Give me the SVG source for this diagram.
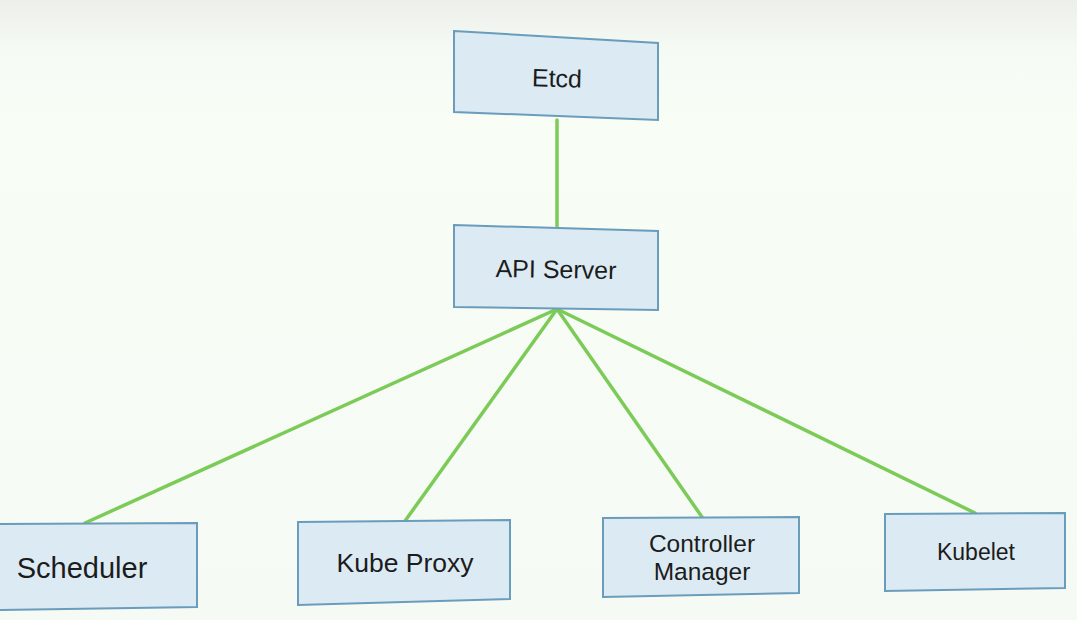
<svg xmlns="http://www.w3.org/2000/svg" width="1077" height="620" viewBox="0 0 1077 620">
  <defs>
    <linearGradient id="bg" x1="0" y1="0" x2="0" y2="1">
      <stop offset="0" stop-color="#ecefea"/>
      <stop offset="0.08" stop-color="#f6faf4"/>
      <stop offset="0.2" stop-color="#f8fdf6"/>
      <stop offset="1" stop-color="#f6faf4"/>
    </linearGradient>
    <style>
      .box { fill: #dcebf3; stroke: #6a9cbc; stroke-width: 2; }
      .lbl { font-family: "Liberation Sans", Arial, sans-serif; fill: #1c1c1c; text-anchor: middle; }
      .conn { stroke: #7ccb59; stroke-width: 3.5; fill: none; stroke-linecap: round; }
    </style>
  </defs>
  <rect x="0" y="0" width="1077" height="620" fill="url(#bg)"/>
  <g id="connectors">
    <line class="conn" x1="557" y1="120" x2="557" y2="226"/>
    <line class="conn" x1="557" y1="309" x2="85" y2="523"/>
    <line class="conn" x1="557" y1="309" x2="405" y2="521"/>
    <line class="conn" x1="557" y1="309" x2="702" y2="517"/>
    <line class="conn" x1="557" y1="309" x2="975" y2="513"/>
  </g>
  <g id="etcd">
    <polygon class="box" points="454,31 658,43 658,120 454,112"/>
    <text class="lbl" x="557" y="87" font-size="25" transform="rotate(1.5 557 78)">Etcd</text>
  </g>
  <g id="api-server">
    <polygon class="box" points="454,225 658,231 658,310 454,307"/>
    <text class="lbl" x="556" y="278" font-size="25" transform="rotate(1 557 270)">API Server</text>
  </g>
  <g id="scheduler">
    <polygon class="box" points="-3,524 197,523 197,607 -3,610"/>
    <text class="lbl" x="82" y="578" font-size="29">Scheduler</text>
  </g>
  <g id="kube-proxy">
    <polygon class="box" points="298,522 510,520 510,599 298,605"/>
    <text class="lbl" x="405" y="572" font-size="26.5">Kube Proxy</text>
  </g>
  <g id="controller-manager">
    <polygon class="box" points="603,518 799,517 799,593 603,597"/>
    <text class="lbl" font-size="24.5"><tspan x="702" y="552">Controller</tspan><tspan x="702" y="580">Manager</tspan></text>
  </g>
  <g id="kubelet">
    <polygon class="box" points="885,514 1065,513 1065,588 885,591"/>
    <text class="lbl" x="976" y="560" font-size="23">Kubelet</text>
  </g>
</svg>
